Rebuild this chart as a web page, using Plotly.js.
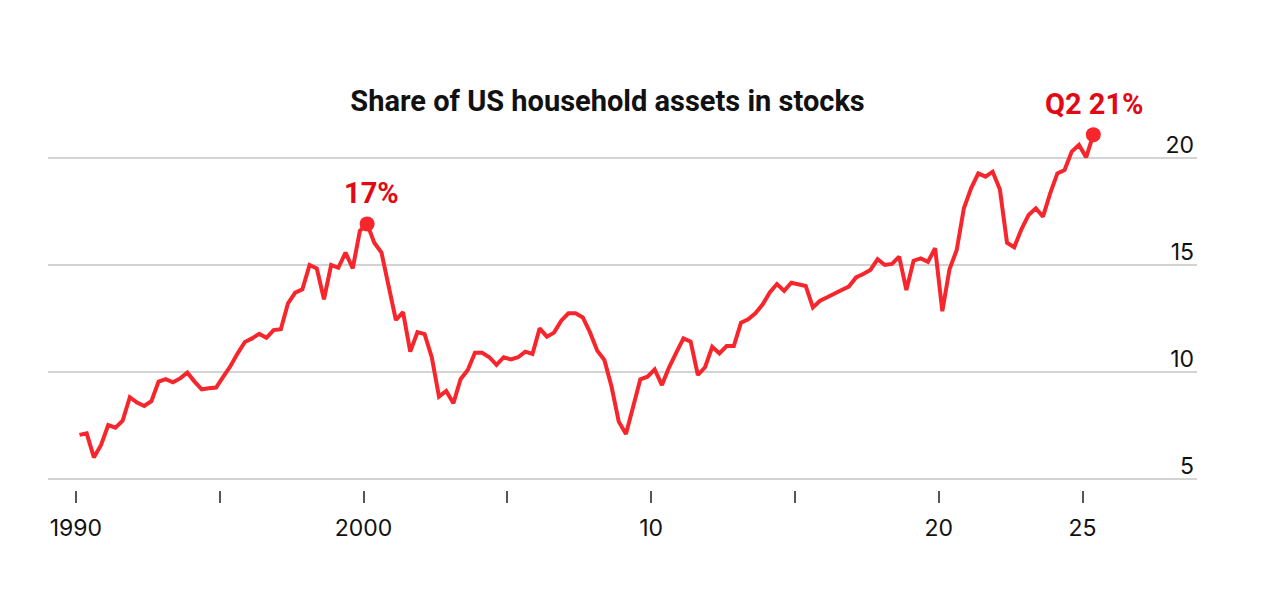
<!DOCTYPE html>
<html>
<head>
<meta charset="utf-8">
<script src="https://cdn.plot.ly/plotly-3.0.1.min.js"></script>
<style>
  html, body { margin: 0; padding: 0; background: #fff; }
  #chart { width: 1280px; height: 603px; }
</style>
</head>
<body>
<div id="chart"></div>
<script>
// Share of US household assets in stocks, quarterly, 1990 Q1 – 2025 Q2 (%)
const startYear = 1990;
const shareValues = [
  7.06, 7.13, 6.01, 6.59,      // 1990
  7.52, 7.40, 7.72, 8.82,      // 1991
  8.57, 8.41, 8.64, 9.55,      // 1992
  9.67, 9.52, 9.70, 9.97,      // 1993
  9.55, 9.19, 9.24, 9.27,      // 1994
  9.78, 10.28, 10.87, 11.40,   // 1995
  11.57, 11.78, 11.60, 11.96,  // 1996
  12.00, 13.21, 13.71, 13.86,  // 1997
  15.00, 14.84, 13.40, 15.00,  // 1998
  14.87, 15.58, 14.84, 16.60,  // 1999
  16.92, 16.04, 15.58, 13.99,  // 2000
  12.43, 12.80, 10.95, 11.86,  // 2001
  11.77, 10.68, 8.85, 9.11,    // 2002
  8.54, 9.66, 10.09, 10.90,    // 2003
  10.90, 10.69, 10.33, 10.69,  // 2004
  10.59, 10.69, 10.95, 10.84,  // 2005
  12.04, 11.65, 11.84, 12.40,  // 2006
  12.74, 12.74, 12.55, 11.85,  // 2007
  11.00, 10.56, 9.31, 7.68,    // 2008
  7.10, 8.38, 9.66, 9.78,      // 2009
  10.12, 9.39, 10.22, 10.90,   // 2010
  11.57, 11.42, 9.86, 10.22,   // 2011
  11.18, 10.87, 11.21, 11.21,  // 2012
  12.30, 12.46, 12.74, 13.15,  // 2013
  13.72, 14.11, 13.79, 14.17,  // 2014
  14.11, 14.02, 13.02, 13.33,  // 2015
  13.49, 13.68, 13.83, 13.99,  // 2016
  14.42, 14.58, 14.77, 15.27,  // 2017
  15.00, 15.05, 15.39, 13.83,  // 2018
  15.20, 15.31, 15.15, 15.78,  // 2019
  12.84, 14.80, 15.70, 17.65,  // 2020
  18.58, 19.28, 19.13, 19.36,  // 2021
  18.54, 16.04, 15.83, 16.67,  // 2022
  17.34, 17.65, 17.26, 18.35,  // 2023
  19.28, 19.44, 20.30, 20.61,  // 2024
  20.03, 21.09                 // 2025
];
const xTickVals = [1990, 1995, 2000, 2005, 2010, 2015, 2020, 2025];
const xTickText = ['1990', '', '2000', '', '10', '', '20', '25'];
const yTickVals = [5, 10, 15, 20];
const yTickText = ['5', '10', '15', '20'];
const highlightIndex = [40, shareValues.length - 1];   // 2000 Q1 peak, latest
const highlightLabels = ['17%', 'Q2 21%'];

// quarter midpoints as decimal years
const xDates = shareValues.map((v, i) => startYear + Math.floor(i / 4) + ((i % 4) + 0.5) / 4);

const lineRed = 'rgb(247,38,44)';
const textRed = 'rgb(226,8,20)';
const baseFont = 'Inter, "Liberation Sans", Arial, sans-serif';
const boldFont = '"Roboto", "Liberation Sans", Arial, sans-serif';

const traces = [
  {
    x: xDates, y: shareValues, type: 'scatter', mode: 'lines',
    line: { color: lineRed, width: 4, shape: 'linear' },
    hoverinfo: 'skip', showlegend: false
  },
  {
    x: highlightIndex.map(i => xDates[i]),
    y: highlightIndex.map(i => shareValues[i]),
    type: 'scatter', mode: 'markers',
    marker: { color: lineRed, size: 15 },
    hoverinfo: 'skip', showlegend: false
  }
];

const annotations = highlightIndex.map((idx, k) => ({
  x: xDates[idx], y: shareValues[idx], xref: 'x', yref: 'y',
  text: '<b>' + highlightLabels[k] + '</b>', showarrow: false,
  xanchor: 'center', yanchor: 'middle',
  xshift: k === 0 ? 4 : 1, yshift: 31,
  font: { family: boldFont, size: 29, color: textRed }
}));

const layout = {
  width: 1280, height: 603,
  paper_bgcolor: '#fff', plot_bgcolor: '#fff',
  margin: { l: 48, r: 83, t: 94, b: 113, pad: 0 },
  title: {
    text: '<b>Share of US household assets in stocks</b>',
    x: 0.487, xanchor: 'center', y: 1 - 101 / 603, yanchor: 'middle', xref: 'paper', yref: 'container',
    font: { family: boldFont, size: 29, color: '#111' }
  },
  xaxis: {
    range: [1989.03, 2028.98],
    anchor: 'free', position: 0,
    showgrid: false, zeroline: false, showline: false,
    tickmode: 'array', tickvals: xTickVals, ticktext: xTickText,
    ticks: 'outside', ticklen: 12, tickwidth: 2, tickcolor: '#555',
    ticklabelstandoff: 5,
    tickfont: { family: baseFont, size: 23, color: '#111' },
    fixedrange: true
  },
  yaxis: {
    domain: [10 / 396, 1],
    range: [4.953, 22.99],
    side: 'right',
    showgrid: true, gridcolor: '#d3d3d3', gridwidth: 2,
    zeroline: false, showline: false,
    tickmode: 'array', tickvals: yTickVals, ticktext: yTickText,
    ticks: '', ticklabelposition: 'inside top',
    ticklabelshift: 3,
    tickfont: { family: baseFont, size: 23, color: '#111' },
    fixedrange: true
  },
  annotations: annotations,
  showlegend: false
};

Plotly.newPlot('chart', traces, layout, { displayModeBar: false, staticPlot: true });
</script>
</body>
</html>
